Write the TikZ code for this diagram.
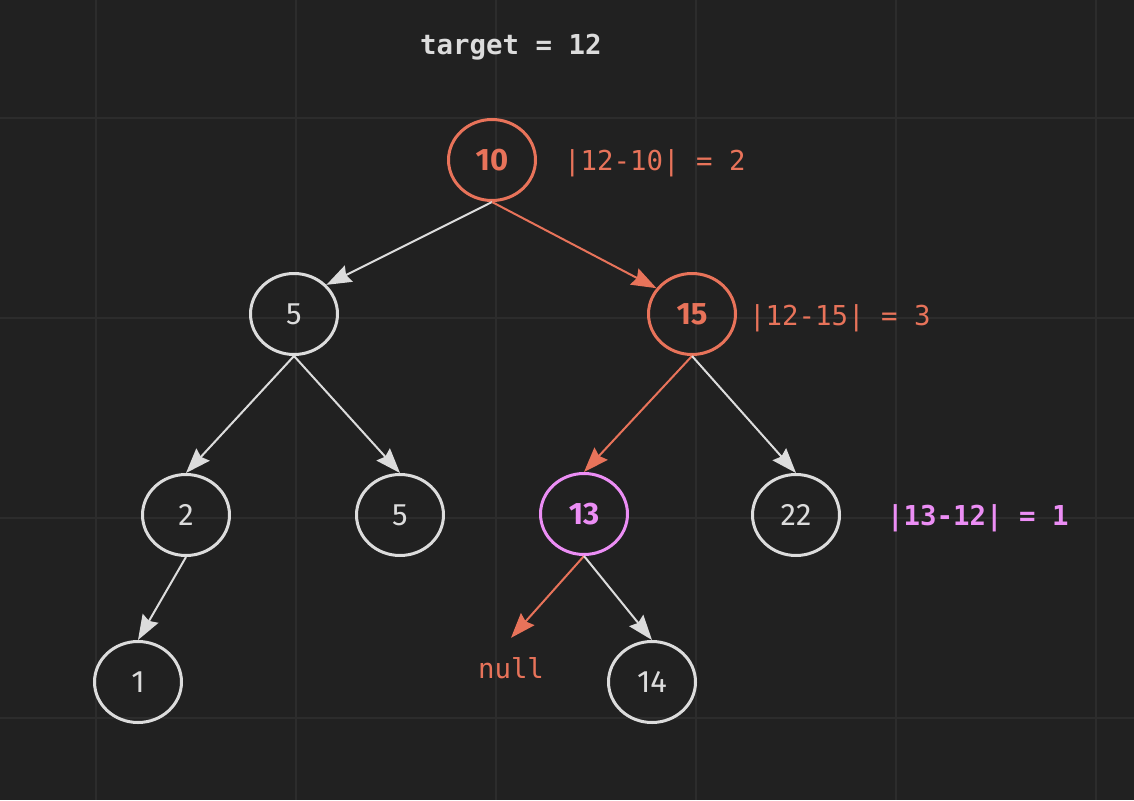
\documentclass[tikz,border=0pt]{standalone}
\usepackage{fontspec}
\setmainfont{Fira Sans}
\newfontfamily\monofam{DejaVu Sans Mono}
\usetikzlibrary{arrows.meta,calc,shapes.geometric}
\definecolor{bgc}{HTML}{212121}
\definecolor{gridc}{HTML}{2C2C2C}
\definecolor{grayc}{HTML}{DCDCDC}
\definecolor{orangec}{HTML}{E8735A}
\definecolor{violetc}{HTML}{EC8EF5}
\tikzset{
  tnode/.style={ellipse, draw=grayc, line width=3pt, minimum width=87pt, minimum height=81pt, inner sep=0pt, text=grayc, font=\fontsize{31}{33}\selectfont},
  hot/.style={draw=orangec, text=orangec, font=\fontsize{31}{33}\selectfont\bfseries},
  best/.style={draw=violetc, text=violetc, font=\fontsize{31}{33}\selectfont\bfseries},
  edge/.style={draw=grayc, line width=2pt, -{Stealth[length=25pt,width=18pt,inset=3pt]}},
  hotedge/.style={edge, draw=orangec, fill=orangec},
  monotxt/.style={inner sep=0pt, anchor=base west, font=\monofam\fontsize{27.4}{30}\selectfont},
}
\begin{document}
\begin{tikzpicture}[x=1pt,y=-1pt]
\fill[bgc] (0,0) rectangle (1134,800);
\useasboundingbox (0,0) rectangle (1134,800);
\foreach \gx in {96,296,496,696,896,1096} \draw[gridc, line width=2pt] (\gx,0) -- (\gx,800);
\foreach \gy in {118,318,518,718} \draw[gridc, line width=2pt] (0,\gy) -- (1134,\gy);

\node[monotxt, text=grayc, font=\monofam\fontsize{27.4}{30}\selectfont\bfseries] (title) at (420,55) {target = 12};

\node[tnode, hot] (n10) at (492,160) {10};
\node[tnode] (n5a) at (294,314) {5};
\node[tnode, hot] (n15) at (692,314) {15};
\node[tnode] (n2) at (186,515) {2};
\node[tnode] (n5b) at (400,515) {5};
\node[tnode, best] (n13) at (584,514) {13};
\node[tnode] (n22) at (796,515) {22};
\node[tnode] (n1) at (138,682) {1};
\node[tnode] (n14) at (652,682) {14};
\node[inner sep=0pt, anchor=base, text=orangec, font=\monofam\fontsize{27.4}{30}\selectfont] (nnull) at (511,678) {null};

\node[monotxt, text=orangec] (l10) at (564,170) {|12-10| = 2};
\node[monotxt, text=orangec] (l15) at (749,325) {|12-15| = 3};
\node[monotxt, text=violetc, font=\monofam\fontsize{27.4}{30}\selectfont\bfseries] (l13) at (887,525) {|13-12| = 1};

\draw[edge] (n10.south) -- (n5a.42);
\draw[hotedge] (n10.south) -- (n15.144);
\draw[edge] (n5a.south) -- (n2.north);
\draw[edge] (n5a.south) -- (n5b.north);
\draw[hotedge] (n15.south) -- (n13.north);
\draw[edge] (n15.south) -- (n22.north);
\draw[edge] (n2.south) -- (n1.north);
\draw[hotedge] (n13.south) -- ($(nnull.north)+(0,-19)$);
\draw[edge] (n13.south) -- (n14.north);
\end{tikzpicture}
\end{document}
